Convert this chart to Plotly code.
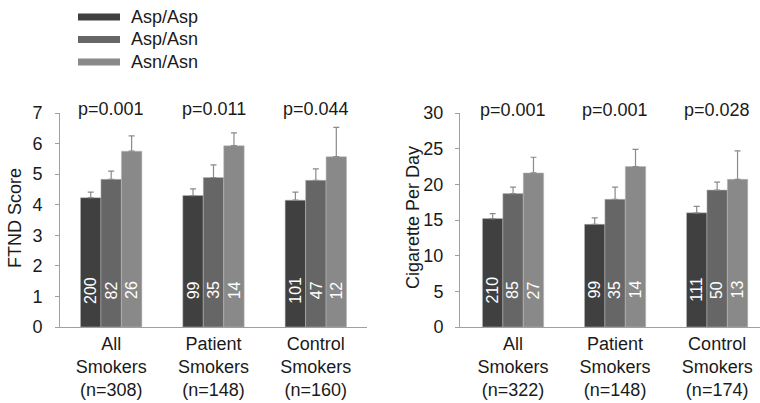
import plotly.graph_objects as go

genotypes = ["Asp/Asp", "Asp/Asn", "Asn/Asn"]
colors = ["#404040", "#666666", "#898989"]

cat_left = ["All<br>Smokers<br>(n=308)", "Patient<br>Smokers<br>(n=148)", "Control<br>Smokers<br>(n=160)"]
cat_right = ["All<br>Smokers<br>(n=322)", "Patient<br>Smokers<br>(n=148)", "Control<br>Smokers<br>(n=174)"]

# FTND score: mean per genotype for each group (All, Patient, Control)
ftnd_mean = {
    "Asp/Asp": [4.23, 4.30, 4.15],
    "Asp/Asn": [4.83, 4.89, 4.80],
    "Asn/Asn": [5.75, 5.93, 5.57],
}
ftnd_err = {
    "Asp/Asp": [0.18, 0.22, 0.26],
    "Asp/Asn": [0.27, 0.41, 0.37],
    "Asn/Asn": [0.50, 0.42, 0.96],
}
ftnd_n = {
    "Asp/Asp": [200, 99, 101],
    "Asp/Asn": [82, 35, 47],
    "Asn/Asn": [26, 14, 12],
}
ftnd_p = ["p=0.001", "p=0.011", "p=0.044"]

# Cigarettes per day
cpd_mean = {
    "Asp/Asp": [15.2, 14.4, 16.0],
    "Asp/Asn": [18.7, 17.9, 19.2],
    "Asn/Asn": [21.6, 22.5, 20.7],
}
cpd_err = {
    "Asp/Asp": [0.7, 0.9, 0.9],
    "Asp/Asn": [0.9, 1.7, 1.1],
    "Asn/Asn": [2.2, 2.4, 4.0],
}
cpd_n = {
    "Asp/Asp": [210, 99, 111],
    "Asp/Asn": [85, 35, 50],
    "Asn/Asn": [27, 14, 13],
}
cpd_p = ["p=0.001", "p=0.001", "p=0.028"]

FONT = "Liberation Sans, Arial, sans-serif"
TXT = "#1a1a1a"
AX = "#a0a0a0"
W, H = 760, 403

fig = go.Figure()
pos = [0, 1, 2]
offsets = [-0.2, 0.0, 0.2]

for g, c in zip(genotypes, colors):
    fig.add_trace(go.Bar(
        x=pos, y=ftnd_mean[g], name=g, marker=dict(color=c, line=dict(color="#bbbbbb", width=0.5)),
        error_y=dict(type="data", array=ftnd_err[g], symmetric=False, arrayminus=[0, 0, 0],
                     color="#8a8a8a", thickness=1.2, width=3),
        xaxis="x", yaxis="y", showlegend=False, offsetgroup=g))
    fig.add_trace(go.Bar(
        x=pos, y=cpd_mean[g], name=g, marker=dict(color=c, line=dict(color="#bbbbbb", width=0.5)),
        error_y=dict(type="data", array=cpd_err[g], symmetric=False, arrayminus=[0, 0, 0],
                     color="#8a8a8a", thickness=1.2, width=3),
        xaxis="x2", yaxis="y2", showlegend=False, offsetgroup=g))

annotations = []
shapes = []
for gi, g in enumerate(genotypes):
    for k in range(3):
        annotations.append(dict(x=pos[k] + offsets[gi], y=1.2, xref="x", yref="y",
                                text=str(ftnd_n[g][k]), textangle=-90, showarrow=False,
                                font=dict(color="white", size=16, family=FONT)))
        annotations.append(dict(x=pos[k] + offsets[gi], y=5.2, xref="x2", yref="y2",
                                text=str(cpd_n[g][k]), textangle=-90, showarrow=False,
                                font=dict(color="white", size=16, family=FONT)))
for k in range(3):
    annotations.append(dict(x=pos[k], y=1, xref="x", yref="y domain", yshift=4, yanchor="middle",
                            text=ftnd_p[k], showarrow=False, font=dict(size=18, color=TXT, family=FONT)))
    annotations.append(dict(x=pos[k], y=1, xref="x2", yref="y2 domain", yshift=3, yanchor="middle",
                            text=cpd_p[k], showarrow=False, font=dict(size=18, color=TXT, family=FONT)))

annotations.append(dict(x=15 / W, y=(H - 218) / H, xref="paper", yref="paper", text="FTND Score",
                        xanchor="center", yanchor="middle",
                        textangle=-90, showarrow=False, font=dict(size=18, color=TXT, family=FONT)))
annotations.append(dict(x=413 / W, y=(H - 218) / H, xref="paper", yref="paper", text="Cigarette Per Day",
                        xanchor="center", yanchor="middle",
                        textangle=-90, showarrow=False, font=dict(size=18, color=TXT, family=FONT)))

# Legend (drawn manually: thick line swatches + labels)
for i, (g, c) in enumerate(zip(genotypes, colors)):
    yc = (H - (17 + 22.5 * i)) / H
    shapes.append(dict(type="line", xref="paper", yref="paper", x0=78 / W, x1=120 / W, y0=yc, y1=yc,
                       line=dict(color=c, width=7)))
    annotations.append(dict(x=129 / W, y=yc, xref="paper", yref="paper", xanchor="left", yanchor="middle",
                            text=g, showarrow=False, font=dict(size=18, color=TXT, family=FONT)))

ybot = (H - 327) / H
ytop = (H - 113) / H

axis_common = dict(showgrid=False, zeroline=False, showline=True, linecolor=AX, linewidth=1,
                   automargin=False, tickfont=dict(size=18, color=TXT, family=FONT))

fig.update_layout(
    width=W, height=H,
    template="none",
    margin=dict(l=0, r=0, t=0, b=0),
    paper_bgcolor="white", plot_bgcolor="white",
    barmode="group", bargap=0.4, bargroupgap=0,
    font=dict(family=FONT, size=18, color=TXT),
    xaxis=dict(domain=[60 / W, 367 / W], range=[-0.5, 2.5], tickvals=pos, ticktext=cat_left,
               ticks="", anchor="y", **axis_common),
    yaxis=dict(domain=[ybot, ytop], range=[0, 7], dtick=1, ticks="outside", ticklen=4, tickcolor=AX,
               ticklabelstandoff=9, anchor="x", **axis_common),
    xaxis2=dict(domain=[460 / W, 1.0], range=[-0.52, 2.42], tickvals=pos, ticktext=cat_right,
                ticks="", anchor="y2", **axis_common),
    yaxis2=dict(domain=[ybot, ytop], range=[0, 30], dtick=5, ticks="outside", ticklen=4, tickcolor=AX,
                ticklabelstandoff=8, anchor="x2", **axis_common),
    annotations=annotations,
    shapes=shapes,
    showlegend=False,
)

fig.write_html(
    "out.html",
    config={"displayModeBar": False},
    post_script="document.body.style.margin='0';document.body.style.padding='0';"
                "document.body.style.overflow='hidden';",
)
